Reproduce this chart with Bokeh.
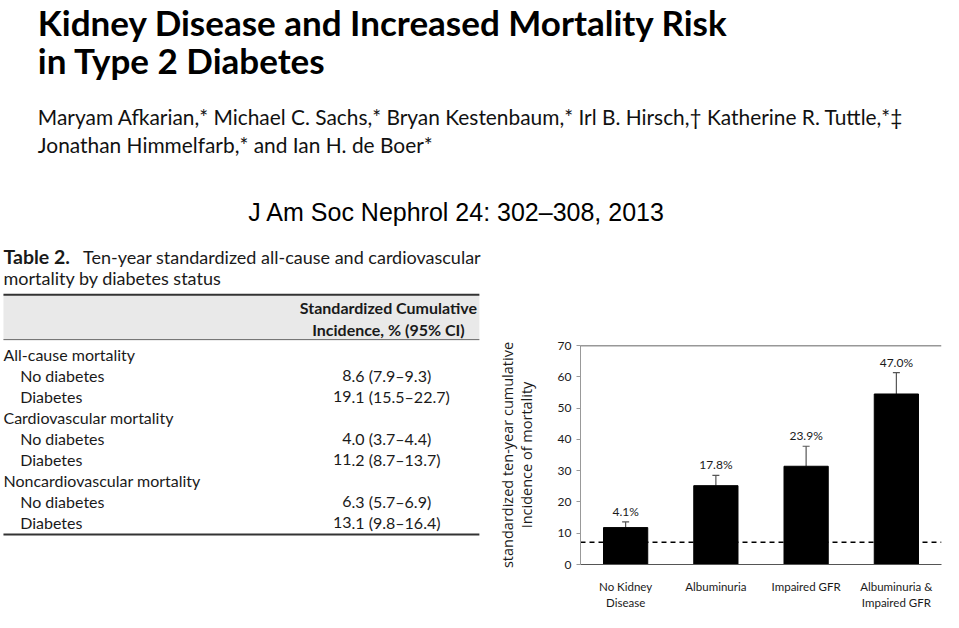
from bokeh.plotting import figure
from bokeh.models import (Range1d, FactorRange, ColumnDataSource, Whisker, LabelSet,
                          Span, TeeHead)
from bokeh.layouts import column, row
from bokeh.core.properties import value
from bokeh.embed import file_html
from bokeh.resources import INLINE

# ---------------- data ----------------
title_lines = ["Kidney Disease and Increased Mortality Risk", "in Type 2 Diabetes"]
author_lines = ["Maryam Afkarian,* Michael C. Sachs,* Bryan Kestenbaum,* Irl B. Hirsch,\u2020 Katherine R. Tuttle,*\u2021",
                "Jonathan Himmelfarb,* and Ian H. de Boer*"]
citation = "J Am Soc Nephrol 24: 302\u2013308, 2013"

table_label = "Table 2."
table_caption = ["Ten-year standardized all-cause and cardiovascular", "mortality by diabetes status"]
table_header = ["Standardized Cumulative", "Incidence, % (95% CI)"]
outcomes = ["All-cause mortality", "Cardiovascular mortality", "Noncardiovascular mortality"]
groups = ["No diabetes", "Diabetes"]
incidence = [8.6, 19.1, 4.0, 11.2, 6.3, 13.1]
ci_low = [7.9, 15.5, 3.7, 8.7, 5.7, 9.8]
ci_high = [9.3, 22.7, 4.4, 13.7, 6.9, 16.4]

categories = ["No Kidney\nDisease", "Albuminuria", "Impaired GFR", "Albuminuria &\nImpaired GFR"]
mortality = [11.8, 25.2, 31.4, 54.5]
upper_ci = [13.6, 28.5, 37.8, 61.3]
bar_labels = ["4.1%", "17.8%", "23.9%", "47.0%"]
reference_level = 7.1
y_ticks = [0, 10, 20, 30, 40, 50, 60, 70]
y_label = "standardized ten-year cumulative\nIncidence of mortality"

# ---------------- layout sizes (page drawn at 943x612) ----------------
W, H = 943, 612
SX = W / 959
SY = H / 628
TOP_H = 234
BOT_H = H - TOP_H
TABLE_W = 492
CHART_W = W - TABLE_W
TXT = "#1a1a1a"
Y_SPLIT = 628 - BOT_H / SY
X_SPLIT = TABLE_W / SX


def mid(baseline, size):
    """vertical centre of a text line whose baseline is given"""
    return baseline - 0.36 * size


def blank(width, height, xr, yr):
    p = figure(width=width, height=height, x_range=Range1d(*xr), y_range=Range1d(*yr),
               x_axis_type=None, y_axis_type=None, toolbar_location=None,
               output_backend="svg", min_border=0, title=None)
    p.outline_line_color = None
    p.frame_align = False
    return p


# ---------------- header (title, authors, citation) ----------------
top = blank(W, TOP_H, (0, 959), (Y_SPLIT, 0))
fs = 35
top.text(x=[38, 38], y=[22.3, 61], text=title_lines, text_font=value("Lato"),
         text_font_style="bold", text_font_size=f"{fs}px", text_color="#000",
         text_baseline="middle")
fs = 20.9
top.text(x=[38, 38], y=[mid(127, fs), mid(155, fs)], text=author_lines, text_font=value("Lato"),
         text_font_size=f"{fs}px", text_color="#111", text_baseline="middle")
fs = 25
top.text(x=[464], y=[mid(226, fs)], text=[citation], text_font=value("Liberation Sans"),
         text_font_size=f"{fs}px", text_color="#000", text_align="center",
         text_baseline="middle")

# ---------------- table ----------------
tab = blank(TABLE_W, BOT_H, (0, X_SPLIT), (628, Y_SPLIT))
tab.text(x=[3], y=[mid(270, 19.5)], text=[table_label], text_font=value("Lato"),
         text_font_style="bold", text_font_size="19.5px", text_color=TXT, text_baseline="middle")
tab.text(x=[84, 3], y=[mid(270, 18), mid(291.5, 18)], text=table_caption, text_font=value("Lato"),
         text_font_size="18px", text_color=TXT, text_baseline="middle")
tab.quad(left=[3], right=[487], top=[302], bottom=[348], fill_color="#e9e9e9", line_color=None)
tab.segment(x0=[3, 3, 3], x1=[487, 487, 487], y0=[302, 348, 548], y1=[302, 348, 548],
            line_color=["#333", "#666", "#333"], line_width=[2, 1, 2])
tab.text(x=[394.5, 394.5], y=[mid(321, 16), mid(343, 16)], text=table_header,
         text_font=value("Lato"), text_font_style="bold", text_font_size="16px",
         text_color=TXT, text_align="center", text_baseline="middle")

row_y0, row_step = 369.3, 21.5
names, nx, ny = [], [], []
int_txt, rest_txt, vy = [], [], []
k = 0
for i, outc in enumerate(outcomes):
    y = mid(row_y0 + (3 * i) * row_step, 16)
    names.append(outc); nx.append(3); ny.append(y)
    for j, g in enumerate(groups):
        yy = mid(row_y0 + (3 * i + 1 + j) * row_step, 16)
        names.append(g); nx.append(20); ny.append(yy)
        s = f"{incidence[k]:.1f}"
        ip, dp = s.split(".")
        int_txt.append(ip)
        rest_txt.append(f".{dp} ({ci_low[k]:.1f}\u2013{ci_high[k]:.1f})")
        vy.append(yy)
        k += 1
tab.text(x=nx, y=ny, text=names, text_font=value("Lato"), text_font_size="16px",
         text_color=TXT, text_baseline="middle")
tab.text(x=[357] * len(int_txt), y=vy, text=int_txt, text_font=value("Lato"),
         text_font_size="16px", text_color=TXT, text_align="right", text_baseline="middle")
tab.text(x=[357] * len(rest_txt), y=vy, text=rest_txt, text_font=value("Lato"),
         text_font_size="16px", text_color=TXT, text_align="left", text_baseline="middle")

# ---------------- bar chart ----------------
src = ColumnDataSource(dict(cat=categories, value=mortality, upper=upper_ci, label=bar_labels))

chart = figure(width=CHART_W, height=BOT_H, title=None,
               x_range=FactorRange(factors=categories, range_padding=0, factor_padding=0),
               y_range=Range1d(0, 70), toolbar_location=None, output_backend="svg",
               min_border_left=round((590 - X_SPLIT) * SX), min_border_right=2,
               min_border_top=round((354 - Y_SPLIT) * SY), min_border_bottom=47)
chart.frame_align = False
chart.outline_line_color = None
chart.xgrid.visible = False
chart.ygrid.visible = False

chart.add_layout(Span(location=reference_level, dimension="width", line_color="black",
                      line_dash="5 4", line_width=1.5, level="underlay"))
chart.vbar(x="cat", top="value", width=0.49, source=src, fill_color="black", line_color="black")
chart.add_layout(Whisker(base="cat", lower="value", upper="upper", source=src,
                         line_color="#555", line_width=1.2,
                         upper_head=TeeHead(size=7, line_color="#555", line_width=1.2),
                         lower_head=None))
chart.add_layout(LabelSet(x="cat", y="upper", text="label", source=src, y_offset=3,
                          text_align="center", text_baseline="bottom",
                          text_font=value("Lato"), text_font_size="12px", text_color=TXT))
chart.add_layout(Span(location=70, dimension="width", line_color="#333", line_width=1.5))

chart.yaxis.ticker = y_ticks
chart.yaxis.axis_label = y_label
chart.yaxis.axis_label_text_font = "Open Sans"
chart.yaxis.axis_label_text_font_style = "normal"
chart.yaxis.axis_label_text_font_size = "14.5px"
chart.yaxis.axis_label_text_line_height = 1.0
chart.yaxis.axis_label_text_color = TXT
chart.yaxis.axis_label_standoff = 19
chart.yaxis.major_tick_out = 4
chart.yaxis.major_tick_in = 0
chart.yaxis.minor_tick_out = 0
chart.yaxis.minor_tick_in = 0
chart.yaxis.axis_line_color = "#999"
chart.yaxis.major_tick_line_color = "#999"
chart.yaxis.major_label_text_font = "Lato"
chart.yaxis.major_label_text_font_size = "12px"
chart.yaxis.major_label_text_color = TXT
chart.yaxis.major_label_standoff = 5

chart.xaxis.major_tick_out = 0
chart.xaxis.major_tick_in = 0
chart.xaxis.axis_line_color = "#555"
chart.xaxis.major_label_text_font = "Lato"
chart.xaxis.major_label_text_font_size = "11.5px"
chart.xaxis.major_label_text_color = TXT
chart.xaxis.major_label_standoff = 15
chart.xaxis.major_label_text_line_height = 1.3

layout = column(top, row(tab, chart))

open("out.html", "w").write(file_html(layout, INLINE))
